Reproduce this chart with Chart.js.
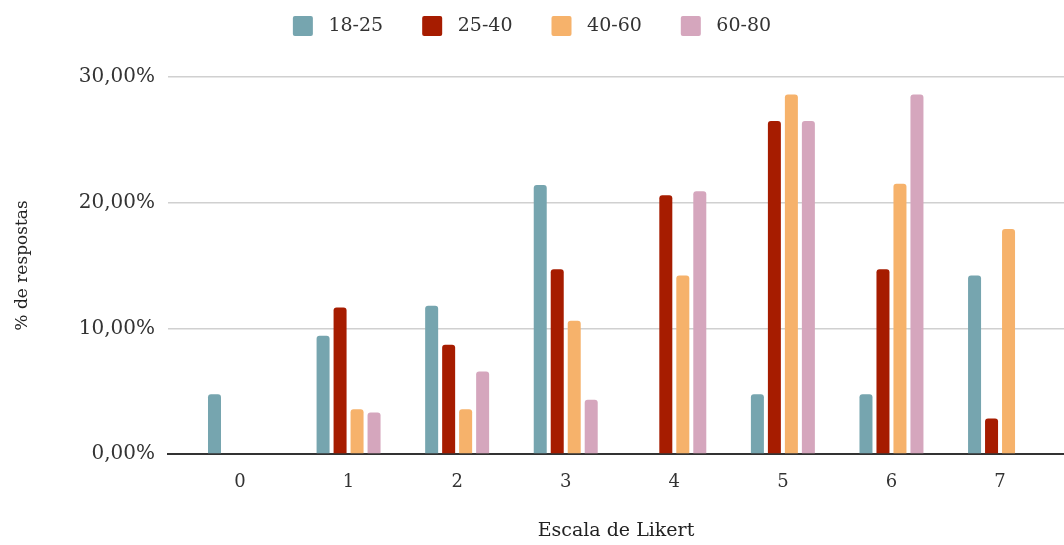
<!DOCTYPE html>
<html>
<head>
<meta charset="utf-8">
<script src="https://cdn.jsdelivr.net/npm/chart.js@4.4.1/dist/chart.umd.min.js"></script>
<style>
  html, body { margin: 0; padding: 0; background: #ffffff; }
  #wrap { width: 1064px; height: 545px; position: relative; }
</style>
</head>
<body>
<div id="wrap"><canvas id="chart" width="1064" height="545"></canvas></div>
<script>
// Likert scale points (x axis)
const categories = ['0', '1', '2', '3', '4', '5', '6', '7'];

// Age groups
const seriesNames = ['18-25', '25-40', '40-60', '60-80'];

// Share of answers per scale point, in percent
const age18to25 = [4.76, 9.41, 11.80, 21.40, 0, 4.76, 4.76, 14.20];
const age25to40 = [0, 11.65, 8.70, 14.70, 20.60, 26.50, 14.70, 2.83];
const age40to60 = [0, 3.57, 3.57, 10.60, 14.20, 28.60, 21.50, 17.90];
const age60to80 = [0, 3.30, 6.56, 4.32, 20.90, 26.50, 28.60, 0];

// Value axis ticks
const yTicks = [0, 10, 20, 30];

const seriesValues = [age18to25, age25to40, age40to60, age60to80];
const seriesColors = ['#76a5af', '#a61c00', '#f6b26b', '#d5a6bd'];

const FONT = 'DejaVu Serif';

const datasets = seriesNames.map((name, s) => ({
  label: name,
  data: seriesValues[s].map((v, i) => ({ x: i, y: v })),
  backgroundColor: seriesColors[s],
  borderWidth: 0,
  borderRadius: 3,
  categoryPercentage: 0.626,
  barPercentage: 0.765
}));

// Legend: fixed band height, and items raised within the band
// (label padding is large to spread the items apart horizontally)
const legendBand = {
  id: 'legendBand',
  beforeInit(chart) {
    const legend = chart.legend;
    if (!legend) return;
    const origFit = legend.fit;
    legend.fit = function () {
      origFit.call(this);
      this.height = 77;
    };
    const origDraw = legend.draw;
    legend.draw = function (...args) {
      const ctx = this.ctx;
      ctx.save();
      ctx.translate(0, -23);
      origDraw.apply(this, args);
      ctx.restore();
    };
  }
};

new Chart(document.getElementById('chart'), {
  type: 'bar',
  data: { datasets },
  plugins: [legendBand],
  options: {
    responsive: false,
    animation: false,
    layout: { padding: { left: 0, right: 0, top: 0, bottom: 0 } },
    plugins: {
      tooltip: { enabled: false },
      legend: {
        position: 'top',
        align: 'center',
        labels: {
          boxWidth: 20,
          boxHeight: 20,
          useBorderRadius: true,
          borderRadius: 2,
          padding: 39,
          color: '#333333',
          font: { family: FONT, size: 19 },
          generateLabels(chart) {
            return Chart.defaults.plugins.legend.labels.generateLabels(chart)
              .map(item => Object.assign(item, { text: ' ' + item.text }));
          }
        }
      }
    },
    scales: {
      x: {
        type: 'linear',
        offset: false,
        min: -0.663,
        max: 7.589,
        grid: { display: false, offset: false },
        border: { display: true, color: '#333333', width: 2 },
        afterBuildTicks(scale) {
          scale.ticks = categories.map((c, i) => ({ value: i }));
        },
        afterFit(scale) { scale.height = 91; },
        ticks: {
          padding: 10,
          color: '#333333',
          font: { family: FONT, size: 18 },
          maxRotation: 0,
          autoSkip: false,
          callback: (v) => categories[Math.round(v)]
        },
        title: {
          display: true,
          text: 'Escala de Likert',
          color: '#222222',
          font: { family: FONT, size: 19 },
          padding: { top: 0, bottom: 3 }
        }
      },
      y: {
        min: 0,
        max: 30,
        afterBuildTicks(scale) {
          scale.ticks = yTicks.map(v => ({ value: v }));
        },
        afterFit(scale) { scale.width = 168; },
        grid: { color: '#d0d0d0', lineWidth: 1.5, drawTicks: false },
        border: { display: false },
        ticks: {
          padding: 13,
          color: '#333333',
          font: { family: FONT, size: 20 },
          callback: (v) => v.toFixed(2).replace('.', ',') + '%'
        },
        title: {
          display: true,
          text: '% de respostas',
          color: '#222222',
          font: { family: FONT, size: 17 },
          padding: { top: 12, bottom: 0 }
        }
      }
    }
  }
});
</script>
</body>
</html>
